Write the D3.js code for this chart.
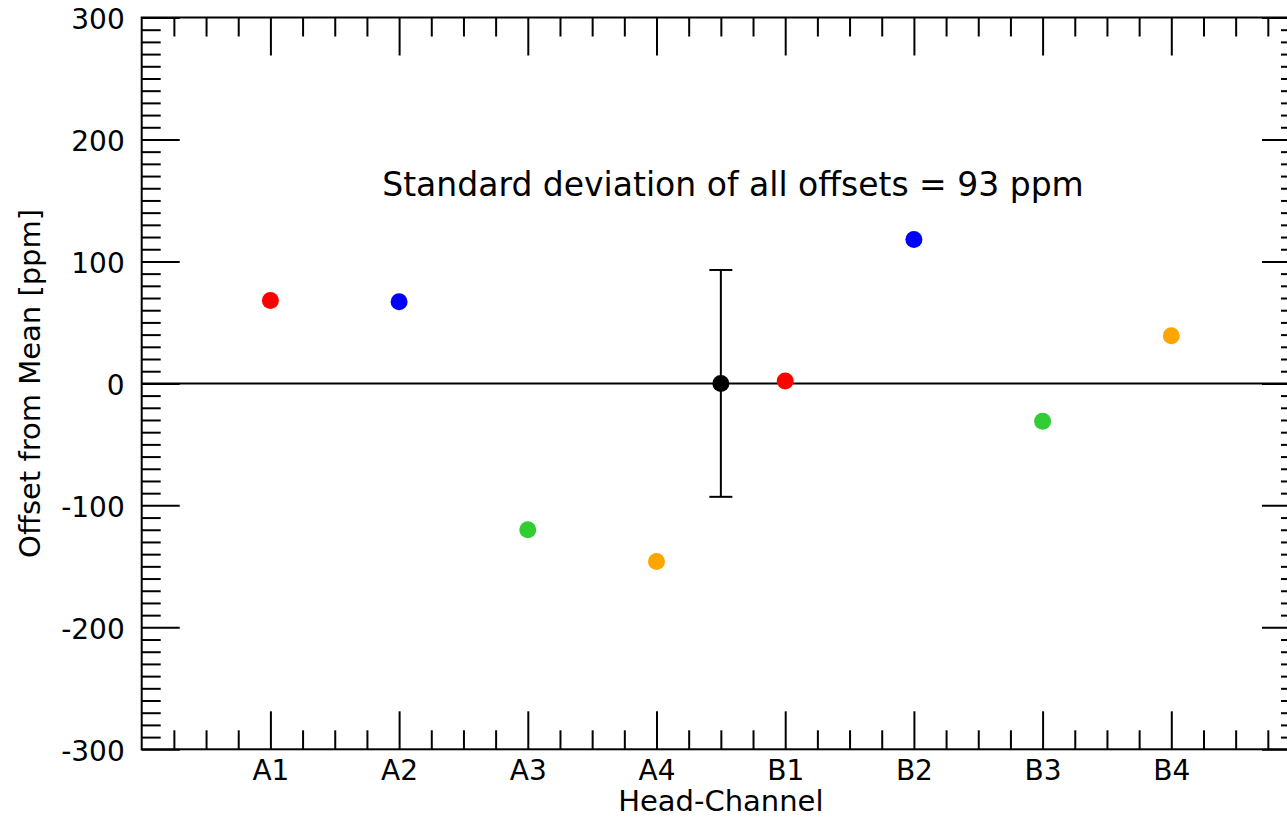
<!DOCTYPE html>
<html>
<head>
<meta charset="utf-8">
<script src="https://cdn.jsdelivr.net/npm/d3@7"></script>
<style>
  body { margin: 0; background: #fff; }
  svg text { font-family: "DejaVu Sans", sans-serif; fill: #000; }
</style>
</head>
<body>
<div id="vizcont"></div>
<script>
// head-channel categories and their offsets (ppm)
var channels = ["A1", "A2", "A3", "A4", "B1", "B2", "B3", "B4"];
var offsets  = [68, 67, -120, -146, 2, 118, -31, 39];
var colours  = ["red", "blue", "limegreen", "orange", "red", "blue", "limegreen", "orange"];
// the mean point with its std-dev bar
var meanPos = [4.5];
var meanVal = [0];
var stdDev  = [93];
var yTicks  = [-300, -200, -100, 0, 100, 200, 300];

var W = 1287, H = 817;
var margin = {top: 17.5, left: 141.7};
var width = 9 * 128.7;          // right frame falls just past the window edge
var height = 749.3 - 17.5;

var svg = d3.select("#vizcont")
  .append("svg")
  .attr("width", W)
  .attr("height", H)
  .append("g")
    .attr("transform", "translate(" + margin.left + "," + margin.top + ")");

var x = d3.scaleLinear().domain([0, 9]).range([0, width]);
var y = d3.scaleLinear().domain([-300, 300]).range([height, 0]);

var xMinor = d3.range(0, 9.01, 0.25).filter(function(v) { return v % 1 !== 0; });
var yMinor = d3.range(-300, 301, 10).filter(function(v) { return v % 100 !== 0; });

function styleAxis(g) {
  g.select(".domain").remove();
  g.selectAll(".tick line").attr("stroke", "#000").attr("stroke-width", 2);
  g.selectAll("text").style("font-size", "28px").style("font-family", "'DejaVu Sans', sans-serif");
}

// bottom axis, ticks pointing inward
svg.append("g")
  .attr("transform", "translate(0," + height + ")")
  .call(d3.axisBottom(x).tickValues(d3.range(1, 9))
    .tickFormat(function(d) { return channels[d - 1]; })
    .tickSizeInner(-38).tickSizeOuter(0).tickPadding(11))
  .call(styleAxis);
svg.append("g")
  .attr("transform", "translate(0," + height + ")")
  .call(d3.axisBottom(x).tickValues(xMinor).tickFormat("").tickSizeInner(-19).tickSizeOuter(0))
  .call(styleAxis);

// top axis
svg.append("g")
  .call(d3.axisTop(x).tickValues(d3.range(1, 9)).tickFormat("").tickSizeInner(-38).tickSizeOuter(0))
  .call(styleAxis);
svg.append("g")
  .call(d3.axisTop(x).tickValues(xMinor).tickFormat("").tickSizeInner(-19).tickSizeOuter(0))
  .call(styleAxis);

// left axis (plain hyphen for negatives, like the original)
svg.append("g")
  .call(d3.axisLeft(y).tickValues(yTicks)
    .tickFormat(function(d) { return String(d); })
    .tickSizeInner(-38).tickSizeOuter(0).tickPadding(17))
  .call(styleAxis)
  .selectAll("text").attr("dy", "0.41em");
svg.append("g")
  .call(d3.axisLeft(y).tickValues(yMinor).tickFormat("").tickSizeInner(-19).tickSizeOuter(0))
  .call(styleAxis);

// right axis
svg.append("g")
  .attr("transform", "translate(" + width + ",0)")
  .call(d3.axisRight(y).tickValues(yTicks).tickFormat("").tickSizeInner(-38).tickSizeOuter(0))
  .call(styleAxis);
svg.append("g")
  .attr("transform", "translate(" + width + ",0)")
  .call(d3.axisRight(y).tickValues(yMinor).tickFormat("").tickSizeInner(-19).tickSizeOuter(0))
  .call(styleAxis);

// frame
svg.append("rect")
  .attr("x", 0).attr("y", 0)
  .attr("width", width).attr("height", height)
  .attr("fill", "none")
  .attr("stroke", "#000")
  .attr("stroke-width", 2);

// zero line
svg.append("line")
  .attr("x1", x(0)).attr("x2", x(9))
  .attr("y1", y(0)).attr("y2", y(0))
  .attr("stroke", "#000").attr("stroke-width", 2);

// std-dev error bar
var eb = svg.append("g");
eb.append("line")
  .attr("x1", x(meanPos[0])).attr("x2", x(meanPos[0]))
  .attr("y1", y(meanVal[0] - stdDev[0])).attr("y2", y(meanVal[0] + stdDev[0]))
  .attr("stroke", "#000").attr("stroke-width", 2);
[-1, 1].forEach(function(s) {
  eb.append("line")
    .attr("x1", x(meanPos[0]) - 11.5).attr("x2", x(meanPos[0]) + 11.5)
    .attr("y1", y(meanVal[0] + s * stdDev[0])).attr("y2", y(meanVal[0] + s * stdDev[0]))
    .attr("stroke", "#000").attr("stroke-width", 2);
});
eb.append("circle")
  .attr("cx", x(meanPos[0])).attr("cy", y(meanVal[0]))
  .attr("r", 8.5).style("fill", "#000");

// channel points
svg.selectAll("circle.pt")
  .data(offsets)
  .enter()
  .append("circle")
  .attr("class", "pt")
  .attr("cx", function(d, i) { return x(i + 1); })
  .attr("cy", function(d) { return y(d); })
  .attr("r", 8.5)
  .style("fill", function(d, i) { return colours[i]; });

// annotation
svg.append("text")
  .attr("x", 733 - margin.left)
  .attr("y", 196 - margin.top)
  .attr("text-anchor", "middle")
  .style("font-size", "33px")
  .text("Standard deviation of all offsets = " + stdDev[0] + " ppm");

// axis titles
svg.append("text")
  .attr("x", x(4.5))
  .attr("y", 811 - margin.top)
  .attr("text-anchor", "middle")
  .style("font-size", "29px")
  .text("Head-Channel");

svg.append("text")
  .attr("transform", "translate(" + (40 - margin.left) + "," + y(0) + ") rotate(-90)")
  .attr("text-anchor", "middle")
  .style("font-size", "29px")
  .text("Offset from Mean [ppm]");
</script>
</body>
</html>
